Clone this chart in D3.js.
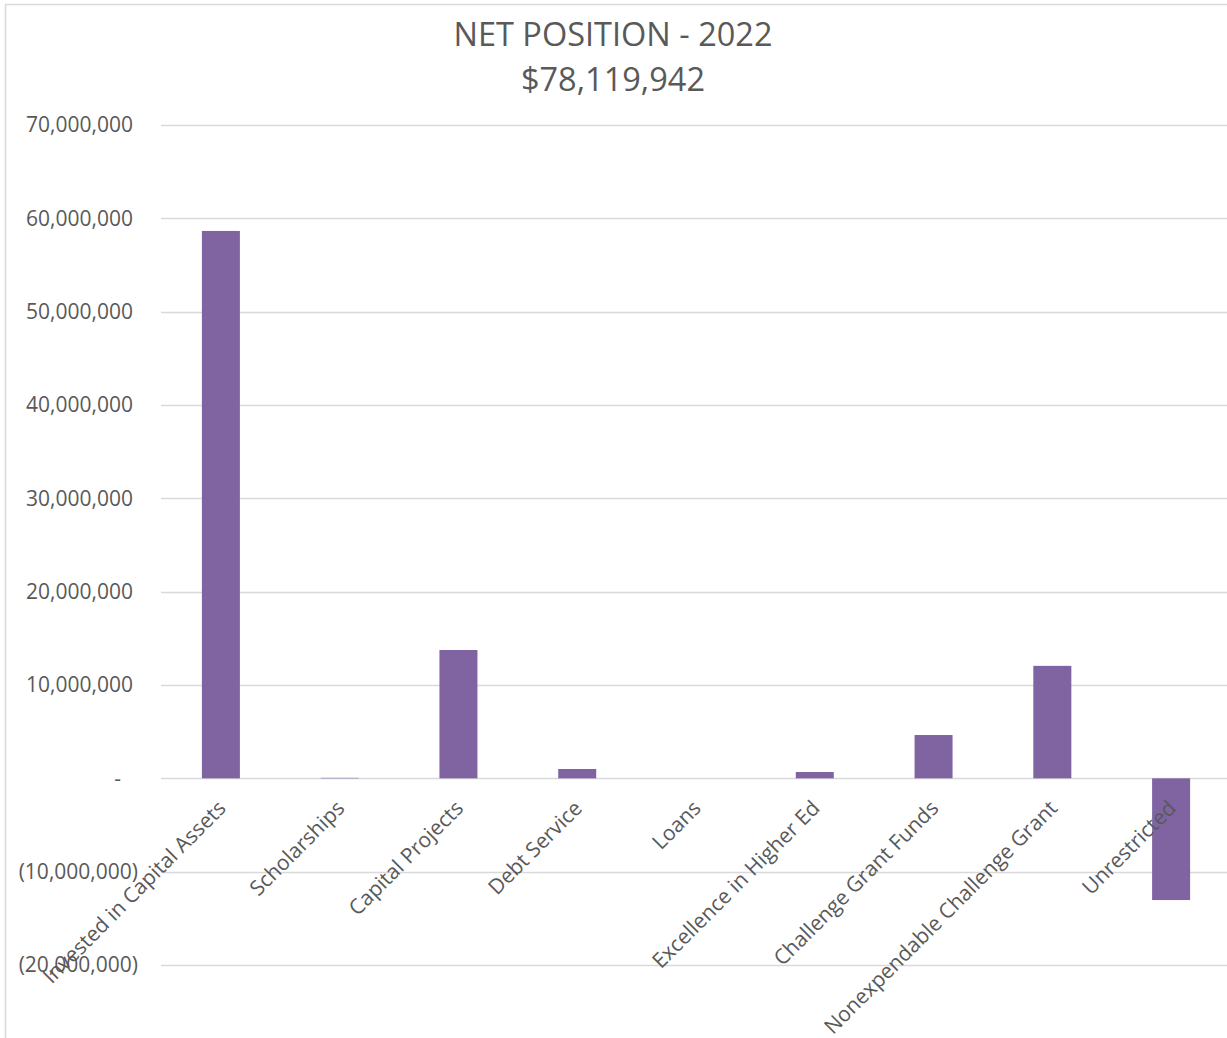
<!DOCTYPE html>
<html><head><meta charset="utf-8">
<script src="https://cdn.jsdelivr.net/npm/d3@7"></script>
<style>body{margin:0;background:#fff;} text{font-family:"Open Sans",sans-serif;fill:#595959;}</style>
</head><body>
<svg id="chart" width="1227" height="1038"></svg>
<script>
const categories = ["Invested in Capital Assets","Scholarships","Capital Projects","Debt Service","Loans","Excellence in Higher Ed","Challenge Grant Funds","Nonexpendable Challenge Grant","Unrestricted"];
const values = [58650000, 50000, 13750000, 1000000, 0, 680000, 4640000, 12050000, -13040000];
const yTicks = [-20000000,-10000000,0,10000000,20000000,30000000,40000000,50000000,60000000,70000000];
const titleLines = ["NET POSITION - 2022", "$78,119,942"];

const svg = d3.select("#chart");
svg.append("rect").attr("x",5.5).attr("y",4.5).attr("width",1240).attr("height",1060)
  .attr("fill","#fff").attr("stroke","#d9d9d9").attr("stroke-width",1.5);

const x = d3.scaleBand().domain(categories).range([161.5, 1230.5]).paddingInner(0.68).paddingOuter(0.34);
const y = d3.scaleLinear().domain([-20000000, 70000000]).range([965, 125]);

// gridlines
svg.append("g").selectAll("line").data(yTicks).join("line")
  .attr("x1",161).attr("x2",1227).attr("y1",d=>Math.round(y(d))+0.5).attr("y2",d=>Math.round(y(d))+0.5)
  .attr("stroke","#d9d9d9").attr("stroke-width",1.5);

// y labels
const fmt = d3.format(",");
svg.append("g").selectAll("text").data(yTicks).join("text")
  .attr("x", d => d < 0 ? 138 : (d === 0 ? 121 : 133))
  .attr("y", d => y(d)).attr("dy","0.35em").attr("text-anchor","end")
  .attr("font-size",21)
  .text(d => d === 0 ? "-" : (d < 0 ? "(" + fmt(-d) + ")" : fmt(d)));

// bars
svg.append("g").selectAll("rect").data(values).join("rect")
  .attr("x",(d,i)=>x(categories[i])).attr("width",x.bandwidth())
  .attr("y",d=>Math.min(y(d),y(0))).attr("height",d=>Math.abs(y(d)-y(0)))
  .attr("fill","#8064a2");

// x labels
svg.append("g").selectAll("text").data(categories).join("text")
  .attr("transform",d=>`translate(${x(d)+x.bandwidth()/2+1},${y(0)+26}) rotate(-45)`)
  .attr("text-anchor","end").attr("dy","0.35em").attr("font-size",21)
  .text(d=>d);

// title
svg.append("g").selectAll("text").data(titleLines).join("text")
  .attr("x",613).attr("y",(d,i)=>46+i*45).attr("text-anchor","middle")
  .attr("font-size",32.5).text(d=>d);
</script>
</body></html>
